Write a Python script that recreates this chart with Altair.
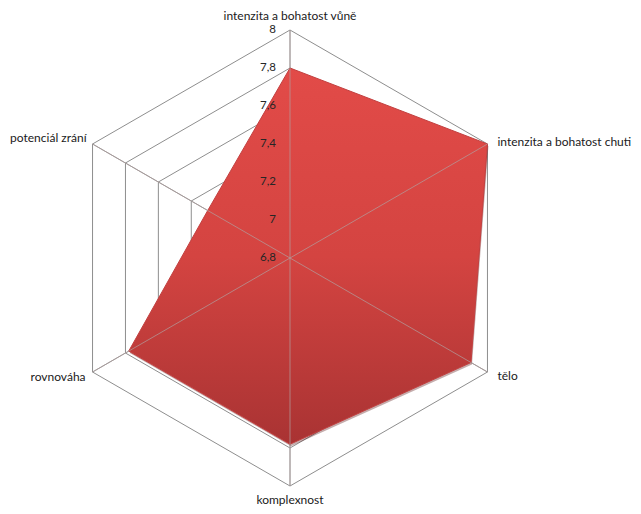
import math
import altair as alt
import pandas as pd

# ---- data ----
categories = ["intenzita a bohatost vůně", "intenzita a bohatost chuti", "tělo",
              "komplexnost", "rovnováha", "potenciál zrání"]
values = [7.8, 8.0, 7.9, 7.78, 7.78, 7.3]
tick_values = [6.8, 7.0, 7.2, 7.4, 7.6, 7.8, 8.0]
tick_labels = ["6,8", "7", "7,2", "7,4", "7,6", "7,8", "8"]
r_min, r_max = 6.8, 8.0

# ---- layout (pixels) ----
W, H = 625, 498
CX, CY, R = 282, 250, 228
xdom = [-CX / R, (W - CX) / R]
ydom = [-(H - CY) / R, CY / R]

n = len(categories)
poly = pd.DataFrame({"idx": list(range(n)), "cat": categories, "value": values})
rings = pd.DataFrame([{"idx": i, "level": lv, "value": lv}
                      for lv in tick_values[1:] for i in range(n)])
spokes = pd.DataFrame([{"idx": i, "cat": categories[i], "value": v, "o": k}
                       for i in range(n) for k, v in enumerate([r_min, r_max])])
ticks = pd.DataFrame({"value": tick_values, "label": tick_labels, "idx": [0] * len(tick_values)})
labels = pd.DataFrame({"idx": list(range(n)), "cat": categories, "value": [r_max] * n})

def polar(ch):
    return ch.transform_calculate(
        ang=f"PI/2 - datum.idx*PI/{n // 2}",
        rr=f"(datum.value - {r_min})/({r_max} - {r_min})",
    ).transform_calculate(
        px="datum.rr*cos(datum.ang)",
        py="datum.rr*sin(datum.ang)",
    )

X = alt.X("px:Q", scale=alt.Scale(domain=xdom, nice=False, zero=False), axis=None)
Y = alt.Y("py:Q", scale=alt.Scale(domain=ydom, nice=False, zero=False), axis=None)

GRID = "#8e8e8e"
FONT = "Lato"

ring_layer = polar(alt.Chart(rings)).mark_line(
    interpolate="linear-closed", stroke=GRID, strokeWidth=1
).encode(x=X, y=Y, detail="level:N", order="idx:Q")

spoke_under = polar(alt.Chart(spokes)).mark_line(stroke=GRID, strokeWidth=1).encode(
    x=X, y=Y, detail="cat:N", order="o:Q")
spoke_over = polar(alt.Chart(spokes)).mark_line(stroke="#b0a0a0", strokeWidth=1, opacity=0.7).encode(
    x=X, y=Y, detail="cat:N", order="o:Q")

grad = alt.Gradient(
    gradient="linear", x1=0, y1=0, x2=0, y2=1,
    stops=[alt.GradientStop(color="#e24b48", offset=0),
           alt.GradientStop(color="#d44441", offset=0.5),
           alt.GradientStop(color="#a93333", offset=1)],
)

shadow = polar(alt.Chart(poly)).mark_line(
    interpolate="linear-closed", fill="#5a1010", fillOpacity=0.35, strokeOpacity=0,
    xOffset=1, yOffset=2
).encode(x=X, y=Y, order="idx:Q")

area = polar(alt.Chart(poly)).mark_line(
    interpolate="linear-closed", fill=grad, stroke="#c24040", strokeWidth=1
).encode(x=X, y=Y, order="idx:Q")

tick_layer = polar(alt.Chart(ticks)).mark_text(
    align="right", baseline="middle", dx=-14, font=FONT, fontSize=11.5, color="#262626"
).encode(x=X, y=Y, text="label:N")

# per-category label placement (style only)
place = [("center", 0, -14), ("left", 10, -2), ("left", 10, 4),
         ("center", 0, 14), ("right", -7, 5), ("right", -6, -6)]
label_layers = []
for i, (al, dx, dy) in enumerate(place):
    label_layers.append(
        polar(alt.Chart(labels)).transform_filter(f"datum.idx == {i}").mark_text(
            align=al, baseline="middle", dx=dx, dy=dy, font=FONT, fontSize=12, color="#1a1a1a"
        ).encode(x=X, y=Y, text="cat:N")
    )

chart = alt.layer(
    ring_layer, spoke_under, shadow, area, spoke_over, tick_layer, *label_layers
).properties(
    width=W, height=H, padding=0, autosize=alt.AutoSizeParams(type="none")
).configure_view(stroke=None)

chart.save("out.html", embed_options={"renderer": "svg", "actions": False})
